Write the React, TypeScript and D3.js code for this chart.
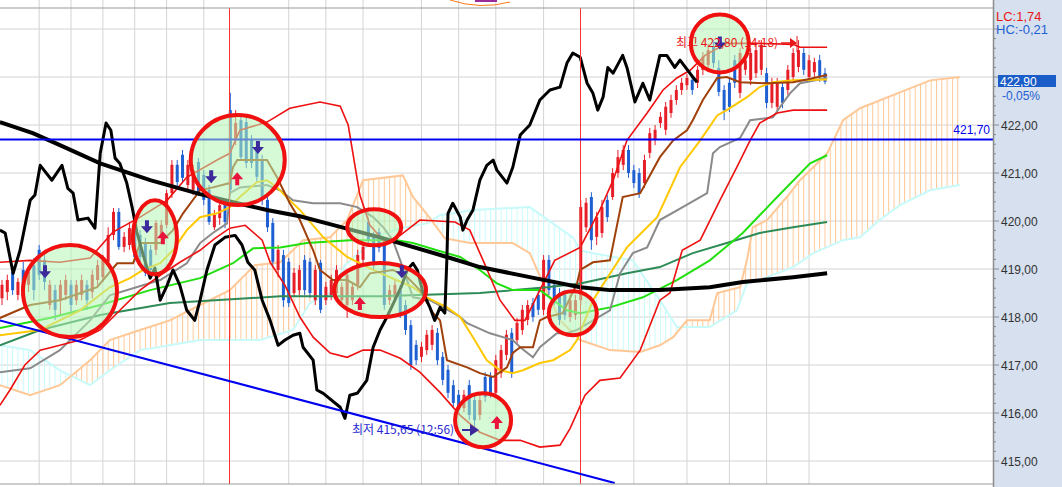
import React from 'react';
import * as d3 from 'd3';

// ---------- DATA ----------
const opens = [418.39,418.52,418.94,418.46,418.98,418.67,419.08,419.40,419.19,418.25,418.56,418.35,418.46,418.67,418.35,418.46,418.67,418.52,418.77,418.83,419.15,419.71,420.19,419.46,419.50,419.81,419.71,419.54,419.40,419.40,419.71,419.92,420.58,421.17,421.38,420.75,420.65,421.23,420.96,420.65,419.87,420.06,420.33,422.31,421.69,422.10,422.06,421.69,421.48,421.27,420.44,419.96,418.98,419.29,419.15,418.50,418.56,419.19,419.15,418.35,419.13,418.35,418.46,418.50,418.35,418.25,418.35,418.67,419.19,419.98,419.67,419.77,419.56,418.35,418.39,418.56,418.25,417.83,417.42,417.17,417.31,417.42,417.67,417.17,416.90,416.58,416.38,416.10,416.58,416.27,415.96,416.75,416.75,416.42,416.83,417.21,417.67,417.52,417.73,417.94,418.29,418.46,418.15,419.19,418.67,418.50,418.46,418.00,418.04,418.35,419.87,420.50,419.67,419.75,420.44,420.50,421.00,421.17,421.48,421.06,421.00,420.79,421.42,421.69,422.04,421.90,422.25,422.52,422.73,422.83,422.94,422.88,423.15,423.25,423.63,423.19,422.73,422.88,423.35,422.67,423.15,422.94,423.08,423.15,423.08,422.46,422.38,422.79,422.73,423.00,423.21,423.50,423.00,423.10,423.35,423.08];
const highs = [418.77,418.88,419.08,418.81,419.15,419.02,419.23,419.50,419.29,418.77,418.67,418.77,418.88,418.77,418.77,418.88,418.77,418.98,419.19,419.29,419.87,420.27,420.27,419.77,419.98,419.92,419.81,419.65,419.50,420.02,420.02,420.65,421.27,421.27,421.48,421.27,421.17,421.31,421.06,420.75,420.23,420.44,420.44,422.67,422.31,422.21,422.15,421.79,421.58,421.38,420.54,420.06,419.50,419.40,419.23,419.02,419.08,419.29,419.23,419.08,419.19,418.73,418.88,419.08,418.73,418.98,418.73,419.40,419.54,420.06,419.77,419.85,419.65,418.67,418.77,418.67,418.35,417.94,417.52,417.48,417.73,417.83,417.77,417.27,417.00,416.69,416.48,416.48,416.69,416.38,416.38,416.85,416.85,417.21,417.42,417.73,417.77,417.98,418.25,418.35,418.40,418.56,419.29,419.29,418.77,418.60,418.56,418.46,418.46,420.44,420.48,420.60,420.19,420.44,420.54,421.10,421.48,421.58,421.58,421.17,421.10,421.38,421.94,422.00,422.27,422.48,422.63,422.83,422.98,423.06,423.04,423.23,423.52,423.69,423.77,423.35,422.83,422.98,423.46,423.60,423.46,423.60,423.67,423.77,423.19,422.98,422.98,422.90,423.25,423.60,423.77,423.60,423.46,423.40,423.46,423.19];
const lows = [418.25,418.35,418.46,418.35,418.52,418.52,418.35,418.77,418.56,418.15,417.94,418.04,418.35,418.04,418.25,418.35,418.15,418.39,418.67,418.73,419.08,419.60,419.40,419.35,419.40,419.15,419.15,418.85,418.88,419.29,419.60,419.85,420.48,420.69,420.81,420.65,420.54,420.52,420.33,419.92,419.81,419.92,419.85,420.54,421.58,421.27,421.10,421.10,420.81,420.33,419.77,419.04,418.83,418.21,418.21,418.42,418.46,418.46,418.40,418.25,418.08,418.25,418.35,418.42,418.25,417.98,418.25,418.56,419.08,419.50,418.98,419.35,418.15,418.25,418.31,417.98,417.63,416.90,417.00,417.06,417.21,417.31,417.00,416.58,416.31,416.10,415.96,416.02,415.85,415.65,415.85,416.23,416.31,416.31,416.73,417.10,416.73,417.42,417.63,417.83,417.90,418.04,418.04,418.46,418.25,417.83,417.94,417.90,417.94,418.25,419.77,419.40,419.50,419.65,419.98,420.44,420.90,421.06,420.90,420.69,420.48,420.69,421.31,421.58,421.94,421.79,422.15,422.42,422.63,422.73,422.63,422.77,423.04,423.15,423.19,422.60,422.10,422.27,422.77,422.56,423.04,422.83,422.98,423.04,422.35,422.35,422.27,422.35,422.63,422.90,423.10,423.04,422.90,422.98,422.90,422.85];
const closes = [418.67,418.77,418.56,418.73,418.60,418.94,418.56,418.88,418.73,418.67,418.15,418.67,418.77,418.25,418.67,418.77,418.35,418.88,419.08,419.19,419.71,420.19,419.46,419.67,419.85,419.25,419.25,418.92,418.98,419.96,419.92,420.58,421.17,420.81,420.90,421.17,421.06,420.58,420.44,419.98,420.13,420.33,419.98,420.65,422.04,421.33,421.21,421.21,420.92,420.44,419.87,419.15,419.40,418.35,418.29,418.92,418.98,418.56,418.50,418.98,418.15,418.63,418.77,418.98,418.63,418.88,418.63,419.29,419.46,419.60,419.08,419.44,418.25,418.56,418.67,418.08,417.73,417.00,417.10,417.38,417.63,417.73,417.10,416.69,416.42,416.21,416.06,416.38,415.96,415.85,416.27,416.33,416.42,417.10,417.31,417.63,416.83,417.88,418.15,418.25,418.00,418.15,419.19,418.56,418.35,417.94,418.04,418.35,418.35,420.29,420.38,419.60,420.08,420.29,420.08,421.00,421.33,421.48,421.00,420.79,420.58,421.27,421.83,421.90,422.17,422.38,422.52,422.73,422.88,422.98,422.73,423.15,423.42,423.56,423.29,422.69,422.31,422.38,422.88,423.50,423.35,423.50,423.56,423.67,422.46,422.88,422.88,422.46,423.15,423.50,423.56,423.15,423.35,423.31,423.00,422.90];

type P = [number, number]; // [candle index, price]

const upperBand: P[] = [[-0.4,419.14],[5.3,419.18],[10.9,419.14],[16.6,419.23],[20.9,419.77],[26.0,420.08],[31.1,420.43],[34.8,420.91],[40.5,421.27],[42.9,421.41],[44.8,421.89],[49.9,422.06],[54.2,422.35],[59.9,422.48],[63.7,422.39],[65.2,422.00],[67.4,420.54],[69.3,419.91],[72.1,419.56],[75.0,419.70],[78.7,420.02],[85.3,419.98],[88.1,419.81],[91.0,419.08],[93.8,418.35],[96.6,417.93],[98.5,417.93],[101.3,418.56],[104.1,419.18],[108.9,419.45],[112.6,420.23],[115.1,420.85],[117.7,421.68],[121.5,422.25],[124.5,422.73],[127.1,422.98],[129.6,423.14],[132.4,423.45],[136.5,423.70],[142.7,423.70],[149.0,423.68],[150.3,423.62],[155.4,423.62]];
const lowerBand: P[] = [[-0.4,416.16],[1.5,416.48],[4.3,417.00],[7.2,417.31],[10.9,417.41],[14.7,417.52],[18.5,417.73],[22.2,418.14],[26.0,418.56],[29.8,418.87],[33.5,419.14],[37.3,419.39],[40.1,419.64],[42.9,419.85],[45.8,419.91],[49.0,419.60],[50.5,419.14],[53.3,418.66],[56.1,418.00],[58.6,417.58],[61.8,417.25],[65.0,417.16],[68.0,417.31],[71.2,417.31],[75.0,417.14],[78.7,416.85],[82.5,416.43],[86.3,415.95],[90.0,415.60],[93.8,415.43],[97.6,415.43],[101.3,415.29],[105.1,415.33],[107.0,415.68],[109.8,416.37],[112.6,416.68],[116.4,416.73],[120.2,417.31],[123.9,418.35],[125.8,418.50],[128.1,419.39],[131.5,419.60],[135.2,420.43],[138.4,421.12],[140.9,421.68],[142.7,422.04],[146.0,422.25],[149.0,422.31],[155.4,422.31]];
const brownLine: P[] = [[-0.4,417.98],[5.3,418.25],[10.9,418.35],[17.9,418.62],[21.7,419.12],[24.7,419.12],[26.0,419.54],[29.8,419.54],[32.2,419.81],[34.1,420.16],[37.3,420.64],[39.7,420.70],[42.9,420.79],[43.5,421.12],[44.3,421.27],[49.9,421.27],[51.8,420.91],[54.2,420.37],[56.1,420.02],[58.6,419.39],[59.9,418.98],[62.3,418.77],[65.0,418.77],[67.4,418.62],[69.3,418.91],[73.6,418.98],[76.3,418.83],[78.7,418.56],[81.2,418.08],[82.5,417.93],[83.8,417.10],[87.6,416.95],[90.0,416.83],[92.5,416.75],[95.1,416.95],[96.2,417.25],[97.6,417.37],[100.0,417.37],[101.3,417.93],[102.6,418.00],[105.6,418.08],[108.3,418.70],[108.9,418.98],[111.3,419.14],[114.5,419.18],[116.9,420.50],[120.2,420.58],[123.9,421.33],[126.4,421.68],[129.0,421.89],[130.1,422.10],[132.0,422.52],[134.7,422.98],[136.5,423.00],[139.0,422.89],[144.1,422.87],[149.0,422.89],[151.6,422.95],[155.4,423.04]];
const yellowLine: P[] = [[-0.4,417.62],[7.2,417.73],[14.7,418.14],[20.3,418.62],[24.1,418.81],[26.6,418.98],[29.8,419.12],[32.2,419.39],[34.8,419.81],[37.3,420.08],[40.5,420.16],[42.9,420.29],[44.8,420.50],[48.0,420.81],[49.9,420.85],[51.8,420.70],[54.2,420.43],[56.1,420.23],[60.5,419.66],[65.0,419.25],[69.9,418.98],[77.4,418.62],[80.0,418.41],[83.8,418.20],[86.3,418.00],[88.7,417.58],[91.3,417.10],[93.8,416.89],[96.2,416.83],[98.1,416.89],[101.3,417.04],[103.8,417.10],[107.0,417.31],[108.3,417.52],[111.3,418.35],[117.7,419.45],[123.4,420.08],[127.7,421.12],[131.5,421.68],[134.7,422.20],[136.5,422.31],[140.3,422.58],[142.7,422.79],[145.2,422.89],[149.0,422.93],[155.4,422.95]];
const grayLine: P[] = [[-0.4,416.85],[5.3,416.93],[10.9,417.31],[16.6,417.93],[20.3,418.45],[29.8,418.77],[34.8,419.12],[37.3,419.54],[39.7,419.75],[42.4,419.95],[42.9,420.58],[44.8,420.70],[49.9,420.75],[52.4,420.64],[54.8,420.43],[58.6,420.37],[63.7,420.37],[66.9,420.29],[69.9,420.08],[71.8,419.87],[73.6,419.60],[75.0,419.18],[77.4,418.41],[80.6,418.35],[83.1,418.20],[86.3,418.00],[87.6,417.87],[91.9,417.66],[96.2,417.52],[97.6,417.37],[100.0,417.16],[101.3,417.37],[104.5,417.66],[106.4,417.66],[108.3,417.73],[114.5,418.14],[116.4,418.91],[118.8,419.33],[121.5,419.45],[123.9,420.02],[128.2,420.29],[132.8,420.58],[133.9,421.41],[135.2,421.54],[139.0,421.73],[140.9,422.10],[145.2,422.16],[146.5,422.37],[148.4,422.66],[150.3,422.87],[155.4,422.98]];
const greenLine: P[] = [[-0.4,417.77],[9.0,417.98],[18.5,418.25],[27.9,418.56],[37.3,418.81],[43.5,419.12],[47.3,419.43],[52.4,419.45],[57.4,419.54],[65.5,419.60],[74.4,419.60],[77.4,419.54],[81.9,419.39],[86.3,419.25],[90.0,418.98],[93.2,418.70],[96.2,418.56],[101.3,418.56],[106.4,418.14],[108.9,418.08],[114.5,418.20],[120.7,418.41],[127.1,418.77],[133.3,419.18],[139.5,419.75],[146.0,420.50],[152.2,421.20],[155.4,421.37]];
const darkGreenLine: P[] = [[-0.4,417.41],[7.2,417.73],[18.5,418.04],[31.6,418.29],[52.4,418.43],[71.2,418.43],[90.0,418.50],[102.6,418.62],[108.9,418.70],[117.7,418.91],[123.9,419.04],[130.1,419.33],[136.5,419.54],[142.7,419.75],[149.0,419.87],[155.4,419.98]];
const longMA: P[] = [[-0.4,422.06],[5.8,421.83],[10.9,421.58],[18.5,421.20],[27.9,420.85],[37.3,420.56],[43.5,420.39],[49.9,420.23],[56.1,420.10],[61.2,419.95],[71.2,419.66],[83.8,419.25],[90.0,419.04],[99.4,418.83],[108.9,418.62],[114.5,418.56],[123.9,418.56],[133.3,418.62],[139.5,418.73],[149.0,418.83],[155.4,418.91]];
const overlayLine: P[] = [[-0.4,419.81],[0.6,419.75],[2.1,418.91],[3.4,419.39],[5.3,420.43],[6.2,420.54],[7.2,421.16],[9.4,420.85],[11.3,421.16],[12.4,420.68],[13.4,420.58],[14.3,420.02],[16.2,420.06],[17.5,419.85],[18.5,421.41],[19.6,422.04],[20.5,421.89],[21.3,421.31],[22.2,421.20],[23.5,420.79],[24.5,420.29],[25.4,419.77],[26.6,419.29],[27.9,418.81],[28.8,419.02],[29.8,418.35],[31.1,418.66],[32.2,418.98],[33.5,418.66],[34.8,418.14],[36.3,417.93],[37.3,418.35],[38.6,418.98],[40.1,419.50],[42.0,419.66],[43.9,419.70],[45.2,419.50],[46.3,419.14],[47.6,418.98],[49.0,418.35],[50.5,417.93],[52.0,417.41],[53.3,417.52],[54.8,417.62],[56.1,417.66],[56.7,417.37],[58.6,417.10],[59.3,416.48],[60.5,416.41],[63.7,416.12],[64.6,415.89],[65.5,416.37],[66.9,416.41],[68.7,416.68],[69.9,417.37],[71.2,417.73],[72.5,418.00],[74.0,418.35],[75.3,418.66],[76.3,418.98],[77.4,419.12],[78.2,418.98],[79.3,418.50],[80.6,418.20],[81.5,417.93],[82.5,418.20],[83.4,418.08],[83.8,419.25],[84.0,420.16],[84.9,420.37],[86.3,420.08],[86.8,419.81],[87.6,420.02],[88.7,420.23],[90.0,420.85],[91.3,421.16],[92.5,421.27],[93.2,421.06],[95.1,420.79],[96.2,421.12],[97.6,421.79],[99.4,422.00],[101.3,422.52],[103.2,422.73],[105.1,422.79],[106.4,423.29],[107.5,423.50],[108.9,423.41],[110.2,422.87],[111.3,422.66],[112.2,422.31],[113.2,422.58],[114.1,423.20],[115.1,423.08],[116.9,423.45],[117.7,423.20],[119.2,422.48],[120.7,422.87],[122.0,422.52],[123.9,423.45],[125.2,423.45],[126.7,423.20],[127.7,423.35],[130.1,423.00],[130.9,422.89]];
const spanA: P[] = [[-0.4,416.58],[5.3,416.37],[10.9,416.58],[16.6,417.10],[20.3,417.52],[26.0,417.73],[31.6,417.93],[37.3,418.25],[42.9,418.56],[47.6,419.08],[52.4,419.14],[54.2,419.33],[56.7,419.60],[61.8,419.66],[65.0,420.02],[68.0,420.85],[75.5,420.95],[77.4,420.50],[80.6,420.06],[83.4,419.64],[88.1,419.54],[96.2,419.54],[99.4,419.33],[101.9,418.70],[105.1,417.93],[108.9,417.52],[114.5,417.31],[120.2,417.27],[123.9,417.41],[126.4,417.58],[129.0,417.93],[133.3,417.93],[134.7,418.50],[139.0,418.62],[140.3,419.18],[141.4,419.87],[144.1,420.02],[147.8,420.50],[150.3,420.85],[152.8,421.12],[155.4,421.41],[158.4,422.10],[161.6,422.35],[169.1,422.68],[174.8,422.93],[180.4,423.00]];
const spanB: P[] = [[-0.4,417.41],[5.3,417.31],[10.9,416.89],[16.6,416.58],[20.3,416.89],[26.0,417.31],[31.6,417.41],[37.3,417.52],[48.6,417.52],[54.8,417.73],[58.0,418.29],[61.8,418.50],[64.6,419.08],[67.4,419.35],[71.2,419.70],[75.0,419.85],[80.0,419.95],[82.5,420.12],[88.7,420.23],[99.4,420.29],[107.5,419.66],[108.9,419.39],[111.3,419.33],[118.8,419.18],[123.9,418.35],[127.1,417.79],[133.3,417.79],[138.4,418.14],[140.3,418.70],[142.7,418.77],[149.0,419.04],[152.8,419.33],[158.4,419.60],[161.6,419.66],[165.3,420.02],[169.1,420.33],[174.8,420.64],[180.4,420.75]];
const trendLine: P[] = [[-0.4,417.93],[115.4,414.54]];
const resistanceLevel = 421.70;

const gridIdx = [7,13,19,25,31,38,54,61,68,79,86,93,102,119,129,137,144,152];
const sessionIdx = [42.75,108.85];
const priceTicks = [415,416,417,418,419,420,421,422];

// annotation circles: [index, price, rx, ry]
const circles: [number, number, number, number][] = [[12.8,418.54,47,46],[28.8,419.66,22,37],[44.4,421.27,47,45],[70.1,419.87,27,18],[71.2,418.56,46,27],[90.6,415.85,28,27],[107.5,418.08,24,22],[135.2,423.70,29,29]];
const downArrows: P[] = [[8.1,418.93],[27.3,419.87],[39.4,420.91],[48.2,421.52],[75.3,418.93],[135.2,423.70]];
const upArrows: P[] = [[30.3,419.66],[44.3,420.89],[67.4,418.29],[93.2,415.81]];

const lastPrice = '422,90';
const lastChange = '-0,05%';
const highLabel = '최고 422,80 (14:18)';
const lowLabel = '최저 415,65 (12:56)';

// ---------- LAYOUT ----------
const W = 1062, H = 487;
const PR = 993, PT = 8, PB = 484;
const x = d3.scaleLinear().domain([0, 155]).range([2, 825]);
const y = d3.scaleLinear().domain([415, 424]).range([461, 29]);
const line = d3.line<P>().x(d => x(d[0])).y(d => y(d[1]));
const fmt = (v: number) => v.toFixed(2).replace('.', ',');

const RED = '#e61e28';
const BLUE = '#1e5fd2';
const PEACH = '#ffc896';
const CYAN = '#c8fafa';

function polyPath(a: P[], b: P[]) {
  const pts = [...a, ...[...b].reverse()].map(p => [x(p[0]), y(p[1])]);
  return 'M' + pts.map(p => p.join(',')).join('L') + 'Z';
}
function aboveClip(b: P[]) {
  const pts = b.map(p => [x(p[0]), y(p[1])]);
  const x0 = pts[0][0], x1 = pts[pts.length - 1][0];
  return 'M' + pts.map(p => p.join(',')).join('L') + `L${x1},0L${x0},0Z`;
}

export default function App() {
  const step = x(1) - x(0);
  const minorTicks: number[] = [];
  for (let k = 0; k <= 45; k++) minorTicks.push(415 + k * 0.2);
  return (
    <svg width={W} height={H} style={{ position: 'absolute', left: 0, top: 0, background: '#fff' }} fontFamily="'Liberation Sans', Arial, sans-serif">
      <defs>
        <clipPath id="plot"><rect x={0} y={PT} width={PR} height={PB - PT} /></clipPath>
        <clipPath id="aboveB"><path d={aboveClip(spanB)} /></clipPath>
        <clipPath id="aboveA"><path d={aboveClip(spanA)} /></clipPath>
        <pattern id="hatchA" patternUnits="userSpaceOnUse" width={step} height={10} x={x(0) - 0.5}>
          <line x1={0.5} x2={0.5} y1={0} y2={10} stroke={PEACH} strokeWidth={1} />
        </pattern>
        <pattern id="hatchB" patternUnits="userSpaceOnUse" width={step} height={10} x={x(0) - 0.5}>
          <line x1={0.5} x2={0.5} y1={0} y2={10} stroke={CYAN} strokeWidth={1} />
        </pattern>
      </defs>
      <rect x={0} y={0} width={W} height={H} fill="#fff" />
      {/* grid */}
      {gridIdx.map(i => <line key={'g' + i} x1={x(i)} x2={x(i)} y1={0} y2={PB} stroke="#d4d4d4" strokeWidth={1} />)}
      {d3.range(415, 425).map(v => <line key={'h' + v} x1={0} x2={PR} y1={y(v)} y2={y(v)} stroke="#d4d4d4" strokeWidth={1} />)}
      <g clipPath="url(#plot)">
        {/* cloud */}
        <path d={polyPath(spanA, spanB)} fill="url(#hatchA)" clipPath="url(#aboveB)" />
        <path d={polyPath(spanA, spanB)} fill="url(#hatchB)" clipPath="url(#aboveA)" />
        <path d={line(spanB)!} fill="none" stroke={CYAN} strokeWidth={2} />
        <path d={line(spanA)!} fill="none" stroke={PEACH} strokeWidth={2} />
        {/* candles */}
        {opens.map((o, i) => {
          const c = closes[i];
          const col = c >= o ? RED : BLUE;
          const top = y(Math.max(o, c)), bot = y(Math.min(o, c));
          return (
            <g key={'c' + i}>
              <line x1={x(i)} x2={x(i)} y1={y(highs[i])} y2={y(lows[i])} stroke={col} strokeWidth={1} />
              <rect x={x(i) - 1.5} y={top} width={3} height={Math.max(1.5, bot - top)} fill={col} />
            </g>
          );
        })}
        {/* indicator lines */}
        <path d={line(darkGreenLine)!} fill="none" stroke="#2e8b57" strokeWidth={2} />
        <path d={line(greenLine)!} fill="none" stroke="#22e010" strokeWidth={2} />
        <path d={line(grayLine)!} fill="none" stroke="#8a8a8a" strokeWidth={2} />
        <path d={line(yellowLine)!} fill="none" stroke="#ffc800" strokeWidth={2} />
        <path d={line(brownLine)!} fill="none" stroke="#a0400a" strokeWidth={2} />
        <path d={line(upperBand)!} fill="none" stroke="#ee1010" strokeWidth={1.6} />
        <path d={line(lowerBand)!} fill="none" stroke="#ee1010" strokeWidth={1.6} />
        <path d={line(longMA)!} fill="none" stroke="#000" strokeWidth={4} />
        <path d={line(overlayLine)!} fill="none" stroke="#000" strokeWidth={3} strokeLinejoin="round" />
        {sessionIdx.map(i => <line key={'s' + i} x1={Math.round(x(i)) + 0.5} x2={Math.round(x(i)) + 0.5} y1={0} y2={H} stroke="#ff3030" strokeWidth={1} />)}
        {/* trend lines */}
        <line x1={0} x2={PR} y1={y(resistanceLevel)} y2={y(resistanceLevel)} stroke="#0000f0" strokeWidth={2} />
        <path d={line(trendLine)!} fill="none" stroke="#0000f0" strokeWidth={2} />
        {/* annotation circles */}
        {circles.map((c, k) => (
          <ellipse key={'e' + k} cx={x(c[0])} cy={y(c[1])} rx={c[2]} ry={c[3]} fill="#b4f5b4" fillOpacity={0.55} stroke="#f01010" strokeWidth={4} />
        ))}
        {downArrows.map((a, k) => (
          <path key={'d' + k} transform={`translate(${x(a[0])},${y(a[1])})`} d="M-2,-7h4v6h4l-6,7l-6,-7h4z" fill="#3c2a9c" />
        ))}
        {upArrows.map((a, k) => (
          <path key={'u' + k} transform={`translate(${x(a[0])},${y(a[1])})`} d="M-2,7h4v-6h4l-6,-7l-6,7h4z" fill="#e8143c" />
        ))}
        {/* hi / lo labels */}
        <text x={676} y={47} fontSize={12} fill="#e81818" fontFamily="'Noto Sans CJK KR', sans-serif">{highLabel}</text>
        <line x1={781} x2={795} y1={43} y2={43} stroke="#e81818" strokeWidth={1.5} />
        <path d="M790,38L797,43L790,48Z" fill="#e81818" />
        <line x1={797} x2={797} y1={36} y2={52} stroke="#e81818" strokeWidth={1} />
        <text x={352} y={434} fontSize={12} fill="#2a2ad0" fontFamily="'Noto Sans CJK KR', sans-serif">{lowLabel}</text>
        <line x1={462} x2={472} y1={430} y2={430} stroke="#3c2a9c" strokeWidth={2} />
        <path d="M470,424L479,430L470,436Z" fill="#3c2a9c" />
        <text x={990} y={134} fontSize={12} fill="#0000f0" textAnchor="end">{fmt(resistanceLevel)}</text>
      </g>
      {/* partial object at top */}
      <path d="M450,0Q480,10 510,2" fill="none" stroke="#ff7a1a" strokeWidth={1} />
      <rect x={475} y={0} width={22} height={2} fill="#9b2a9b" />
      {/* frame */}
      <line x1={0} x2={PR} y1={PT} y2={PT} stroke="#999" strokeWidth={1} />
      <line x1={0} x2={W} y1={PB} y2={PB} stroke="#999" strokeWidth={1} />
      {/* right axis panel */}
      <rect x={PR} y={0} width={W - PR} height={H} fill="#d6e0ee" />
      <line x1={PR + 0.5} x2={PR + 0.5} y1={0} y2={H} stroke="#8c8c8c" strokeWidth={1.5} />
      {minorTicks.map((v, k) => (
        <line key={'mt' + k} x1={PR} x2={PR + (k % 5 === 0 ? 6 : 3)} y1={y(v)} y2={y(v)} stroke="#8c8c8c" strokeWidth={1} />
      ))}
      {priceTicks.map(v => (
        <text key={'t' + v} x={1001} y={y(v) + 4.5} fontSize={12} fill="#333">{fmt(v)}</text>
      ))}
      <text x={996} y={21} fontSize={13} fill="#e81818">LC:1,74</text>
      <text x={996} y={34} fontSize={13} fill="#1e5fd2">HC:-0,21</text>
      <rect x={998} y={75} width={58} height={12} fill="#1a5cc8" />
      <text x={1000} y={85.5} fontSize={12} fill="#fff">{lastPrice}</text>
      <text x={1002} y={99.5} fontSize={12} fill="#1e5fd2">{lastChange}</text>
    </svg>
  );
}
